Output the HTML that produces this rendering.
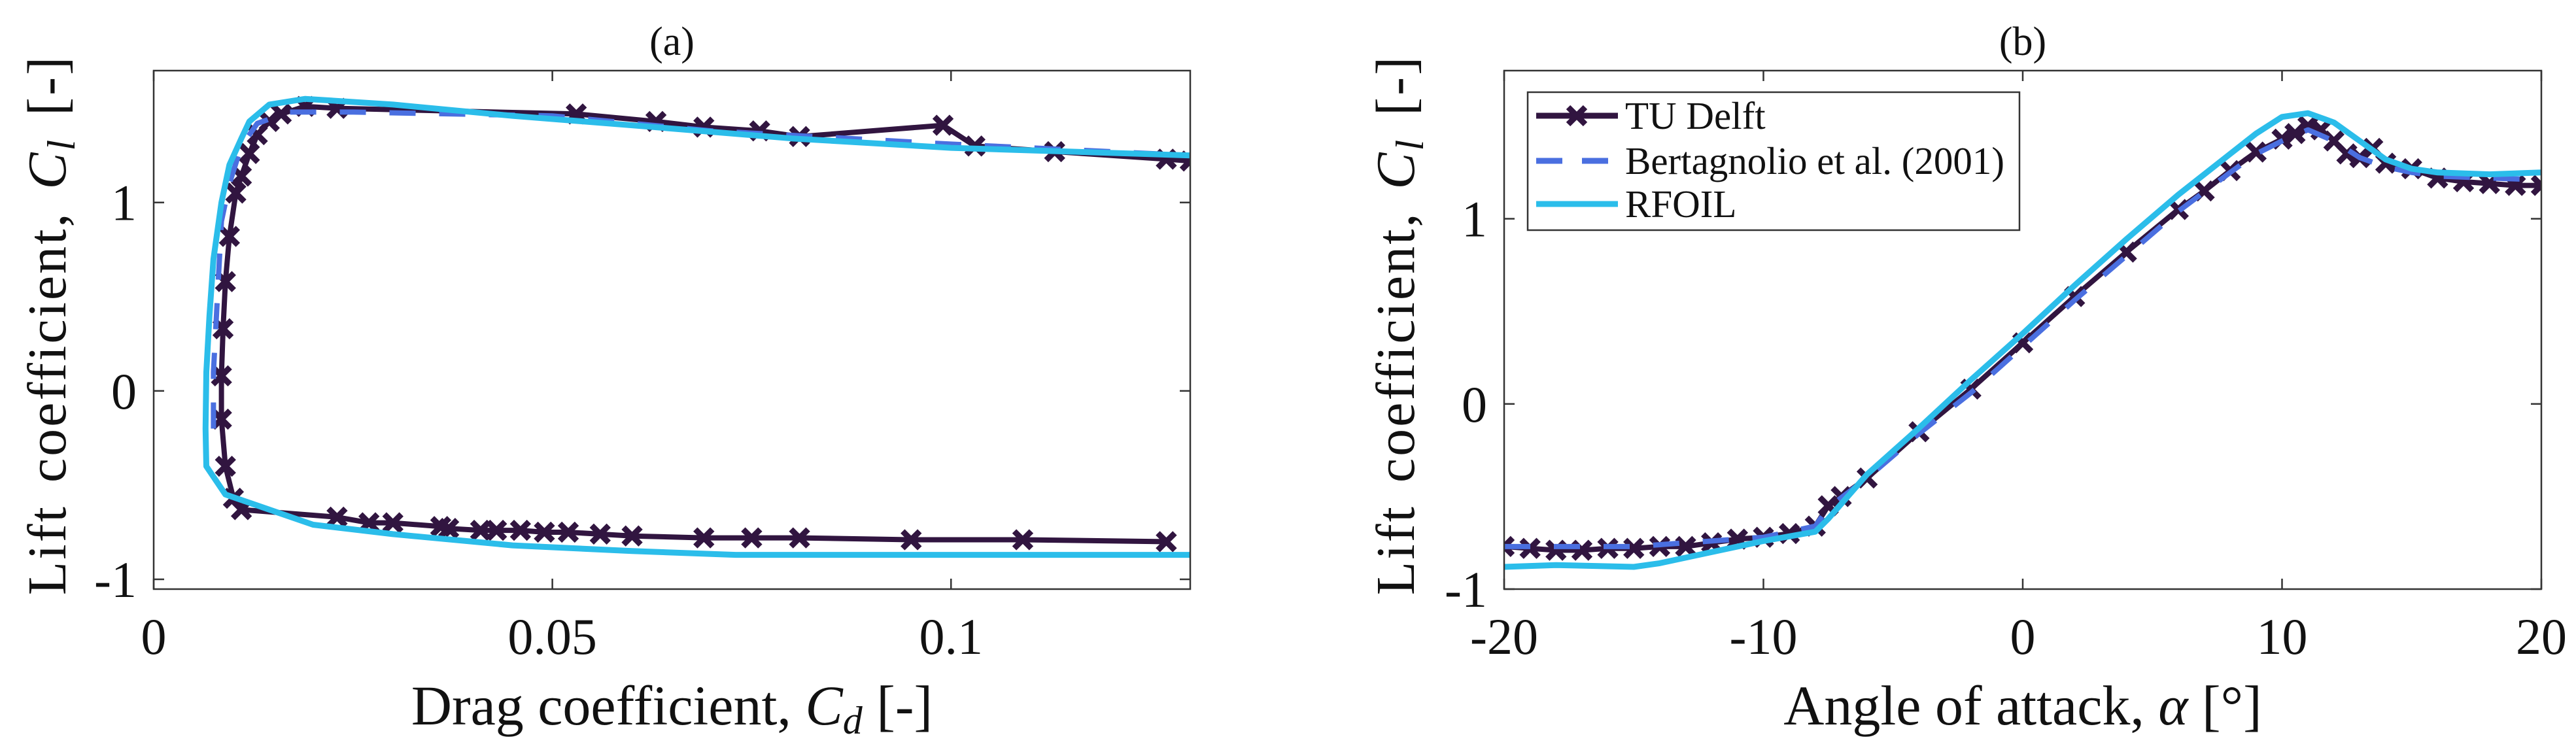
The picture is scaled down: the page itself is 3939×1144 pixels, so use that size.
<!DOCTYPE html>
<html><head><meta charset="utf-8">
<style>
html,body{margin:0;padding:0;background:#fff;}
svg{display:block;font-family:"Liberation Serif",serif;}
</style></head>
<body>
<svg id="fig" width="3939" height="1144" viewBox="0 0 3939 1144" xmlns="http://www.w3.org/2000/svg">
<rect width="3939" height="1144" fill="#fff"/>
</svg>
<script>
// Panel (a): drag polar
const tuCd = [0.127,0.109,0.095,0.081,0.075,0.069,0.060,0.056,0.052,0.049,0.046,0.043,0.041,0.037,0.036,0.030,0.027,0.023,0.011,0.010,0.009,0.0085,0.0085,0.0087,0.009,0.0095,0.0103,0.011,0.012,0.013,0.0145,0.016,0.019,0.023,0.053,0.063,0.069,0.076,0.081,0.099,0.103,0.113,0.127,0.13];
const tuClA = [-0.80,-0.79,-0.79,-0.78,-0.78,-0.78,-0.77,-0.76,-0.75,-0.75,-0.74,-0.74,-0.74,-0.73,-0.72,-0.70,-0.70,-0.67,-0.63,-0.57,-0.40,-0.15,0.08,0.33,0.58,0.82,1.05,1.14,1.26,1.36,1.43,1.47,1.51,1.50,1.47,1.43,1.40,1.38,1.35,1.41,1.30,1.27,1.23,1.22];
const beCd = [0.0075,0.0075,0.008,0.0085,0.0095,0.011,0.013,0.017,0.025,0.05,0.07,0.1,0.13];
const beClA = [-0.2,0.1,0.5,0.9,1.1,1.3,1.42,1.48,1.48,1.46,1.38,1.31,1.25];
const rfCd = [0.13,0.1,0.073,0.06,0.045,0.03,0.02,0.009,0.0066,0.0065,0.0066,0.007,0.0075,0.0085,0.0095,0.011,0.012,0.0145,0.019,0.03,0.045,0.06,0.08,0.1,0.13];
const rfClA = [-0.87,-0.87,-0.87,-0.85,-0.82,-0.76,-0.71,-0.55,-0.40,-0.2,0.1,0.4,0.7,1.0,1.2,1.34,1.43,1.52,1.55,1.52,1.46,1.41,1.34,1.29,1.25];
const xTicksA = [0,0.05,0.1];
const xTickLabelsA = ["0","0.05","0.1"];
const yTicks = [-1,0,1];
const yTickLabels = ["-1","0","1"];
// Panel (b): lift curve
const tuAoa = [-20,-19,-18,-17,-16,-15,-14,-13,-12,-11,-10,-9,-8,-7.5,-7,-6,-4,-2,0,2,4,6,7,8,9,10,10.5,11,11.5,12,12.5,13,13.5,14,15,16,17,18,19,20];
const tuClB = [-0.77,-0.78,-0.79,-0.79,-0.78,-0.78,-0.77,-0.77,-0.75,-0.73,-0.72,-0.70,-0.66,-0.55,-0.50,-0.40,-0.15,0.08,0.33,0.58,0.82,1.05,1.15,1.26,1.36,1.43,1.46,1.50,1.48,1.42,1.35,1.33,1.38,1.30,1.27,1.22,1.20,1.19,1.18,1.18];
const beAoa = [-20,-15,-10,-8,-7.5,-6,-4,-2,0,2,4,6,8,9,10,11,12,13,14,15,16,18,20];
const beClB = [-0.77,-0.77,-0.72,-0.66,-0.56,-0.40,-0.16,0.06,0.31,0.56,0.80,1.04,1.25,1.35,1.42,1.48,1.42,1.33,1.28,1.25,1.23,1.22,1.21];
const rfAoa = [-20,-18,-15,-14,-12,-10,-8,-7.5,-6,-4,-2,0,2,4,6,8,9,10,11,12,13,14,15,16,18,20];
const rfClB = [-0.88,-0.87,-0.88,-0.86,-0.80,-0.74,-0.69,-0.62,-0.38,-0.13,0.13,0.38,0.64,0.89,1.13,1.35,1.46,1.55,1.57,1.52,1.42,1.32,1.27,1.25,1.24,1.25];
const xTicksB = [-20,-10,0,10,20];
const xTickLabelsB = ["-20","-10","0","10","20"];

const NS = "http://www.w3.org/2000/svg";
const svg = document.getElementById('fig');
function mk(tag, attrs, parent){ const e=document.createElementNS(NS,tag); for(const k in attrs) e.setAttribute(k,attrs[k]); (parent||svg).appendChild(e); return e; }

const DARK="#311540", BLUE="#4a6fe0", CYAN="#2bbdea";
const MS=13, MW=9;

function panel(cfg){
  const g = mk('g',{});
  
  
  const sx = v => cfg.L + (v-cfg.x0)/(cfg.x1-cfg.x0)*(cfg.R-cfg.L);
  const sy = v => cfg.B - (v-cfg.y0)/(cfg.y1-cfg.y0)*(cfg.B-cfg.T);
  const clip = mk('clipPath',{id:'clip-'+cfg.name},g);
  mk('rect',{x:cfg.L,y:cfg.T,width:cfg.R-cfg.L,height:cfg.B-cfg.T},clip);
  const plot = mk('g',{'clip-path':'url(#clip-'+cfg.name+')'},g);
  function line(xs,ys,color,w,dash,name){
    const d = xs.map((x,i)=>(i?'L':'M')+sx(x).toFixed(1)+','+sy(ys[i]).toFixed(1)).join(' ');
    const p = mk('path',{d:d,fill:'none',stroke:color,'stroke-width':w,'stroke-linejoin':'round'},plot);
    if(dash) p.setAttribute('stroke-dasharray',dash);
    
    
  }
  line(cfg.tu[0],cfg.tu[1],DARK,8,null,'tu-delft-line');
  cfg.tu[0].forEach((x,i)=>{
    const cx=sx(x), cy=sy(cfg.tu[1][i]), s=MS;
    const m = mk('path',{d:`M${cx-s},${cy-s}L${cx+s},${cy+s}M${cx-s},${cy+s}L${cx+s},${cy-s}`,stroke:DARK,'stroke-width':MW},plot);
    
    
  });
  line(cfg.be[0],cfg.be[1],BLUE,8,'40 36','bertagnolio-line');
  line(cfg.rf[0],cfg.rf[1],CYAN,9,null,'rfoil-line');
  const box = mk('rect',{x:cfg.L,y:cfg.T,width:cfg.R-cfg.L,height:cfg.B-cfg.T,fill:'none',stroke:'#333','stroke-width':2.5},g);
  
  
  cfg.xt.forEach((t,i)=>{
    const x=sx(t);
    mk('line',{x1:x,x2:x,y1:cfg.B,y2:cfg.B-16,stroke:'#333','stroke-width':2.5},g);
    mk('line',{x1:x,x2:x,y1:cfg.T,y2:cfg.T+16,stroke:'#333','stroke-width':2.5},g);
    const tx = mk('text',{x:x,y:cfg.B+99,'font-size':78,'text-anchor':'middle',fill:'#111'},g);
    tx.textContent = cfg.xl[i];
    
    
  });
  yTicks.forEach((t,i)=>{
    const y=sy(t);
    mk('line',{x1:cfg.L,x2:cfg.L+16,y1:y,y2:y,stroke:'#333','stroke-width':2.5},g);
    mk('line',{x1:cfg.R,x2:cfg.R-16,y1:y,y2:y,stroke:'#333','stroke-width':2.5},g);
    const tx = mk('text',{x:cfg.L-26,y:y+27,'font-size':78,'text-anchor':'end',fill:'#111'},g);
    tx.textContent = yTickLabels[i];
    
    
  });
  const ttl = mk('text',{x:(cfg.L+cfg.R)/2,y:84,'font-size':62,'text-anchor':'middle',fill:'#111'},g);
  ttl.textContent = cfg.title;
  
  
  const xl = mk('text',{x:(cfg.L+cfg.R)/2,y:1108,'font-size':86,'text-anchor':'middle',fill:'#111'},g);
  xl.innerHTML = cfg.xlab;
  
  
  const yl = mk('text',{x:0,y:0,'font-size':84,'text-anchor':'middle',fill:'#111','letter-spacing':3,'word-spacing':10,transform:`translate(${cfg.ylx},497) rotate(-90)`},g);
  yl.innerHTML = 'Lift coefficient, <tspan font-style="italic">C</tspan><tspan font-style="italic" font-size="60" dy="14">l</tspan><tspan dy="-14"> [-]</tspan>';
  
  
}

panel({name:'panel-a',L:235,R:1820,T:108,B:901,x0:0,x1:0.13,y0:-1.052,y1:1.70,
  tu:[tuCd,tuClA],be:[beCd,beClA],rf:[rfCd,rfClA],xt:xTicksA,xl:xTickLabelsA,title:'(a)',ylx:100,
  xlab:'Drag coefficient, <tspan font-style="italic">C</tspan><tspan font-style="italic" font-size="60" dy="14">d</tspan><tspan dy="-14"> [-]</tspan>'});
panel({name:'panel-b',L:2300,R:3886,T:108,B:901,x0:-20,x1:20,y0:-1,y1:1.8,
  tu:[tuAoa,tuClB],be:[beAoa,beClB],rf:[rfAoa,rfClB],xt:xTicksB,xl:xTickLabelsB,title:'(b)',ylx:2162,
  xlab:'Angle of attack, <tspan font-style="italic">α</tspan> [°]'});

const lg = mk('g',{});


mk('rect',{x:2336,y:141,width:752,height:211,fill:'#fff',stroke:'#333','stroke-width':2.5},lg);
const entries=[["TU Delft",DARK,null,177,'legend-entry-tu-delft'],["Bertagnolio et al. (2001)",BLUE,'40 30',246,'legend-entry-bertagnolio'],["RFOIL",CYAN,null,312,'legend-entry-rfoil']];
entries.forEach(e=>{
  const eg = mk('g',{},lg);
  
  
  const l = mk('line',{x1:2349,x2:2474,y1:e[3],y2:e[3],stroke:e[1],'stroke-width':9},eg);
  if(e[2]) l.setAttribute('stroke-dasharray',e[2]);
  if(e[0]==="TU Delft"){
    const cx=2411, cy=e[3], s=MS;
    mk('path',{d:`M${cx-s},${cy-s}L${cx+s},${cy+s}M${cx-s},${cy+s}L${cx+s},${cy-s}`,stroke:DARK,'stroke-width':MW},eg);
  }
  const t = mk('text',{x:2485,y:e[3]+20,'font-size':59,fill:'#111'},eg);
  t.textContent = e[0];
});
</script>
</body></html>
